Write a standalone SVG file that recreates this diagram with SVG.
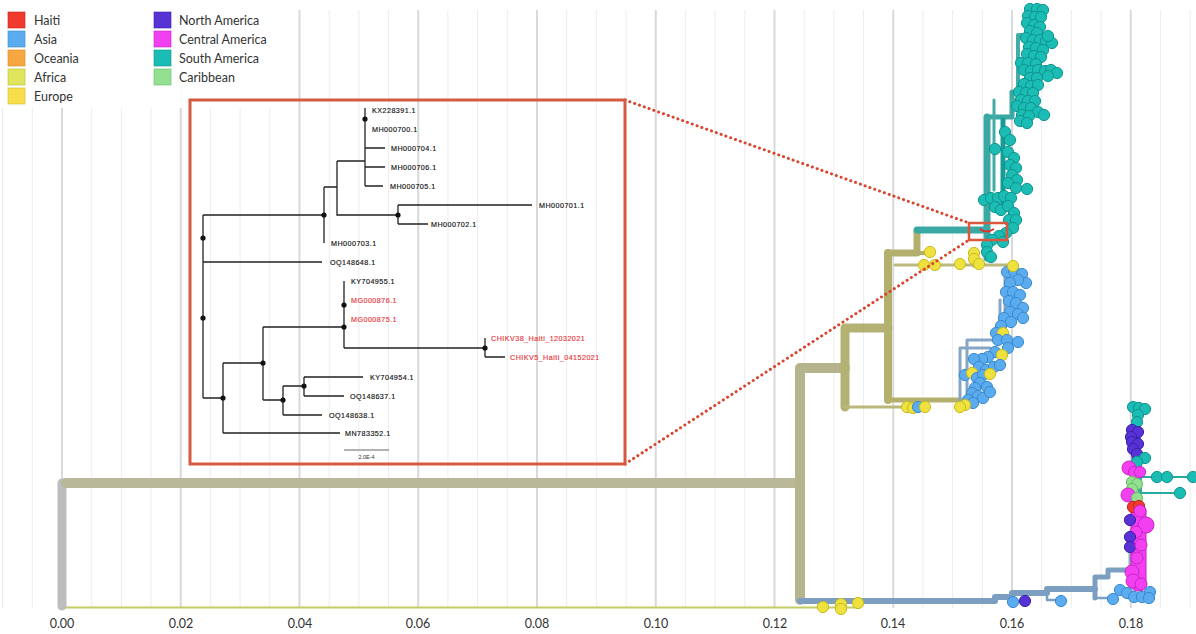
<svg xmlns="http://www.w3.org/2000/svg" width="1196" height="634" viewBox="0 0 1196 634">
<style>
.lg{font-family:Lato,"Liberation Sans",sans-serif;font-size:12.5px;fill:#333}
.ax{font-family:Lato,"Liberation Sans",sans-serif;font-size:12.5px;fill:#333;text-anchor:middle}
.tl{font-family:"Liberation Sans",Arial,sans-serif;font-size:7.2px;letter-spacing:0.45px;fill:#111;dominant-baseline:central;stroke:#111;stroke-width:0.15}
.tr{fill:#e8353a;stroke:#e8353a}
.ie{stroke:#222;stroke-width:1.3;fill:none}
.nd{fill:#111}
.t{fill:#1bbcb4;stroke:#0f9690;stroke-width:1}
.b{fill:#5aacef;stroke:#3a8ad0;stroke-width:1}
.y{fill:#efe23f;stroke:#c9bb1e;stroke-width:1}
.p{fill:#5733d5;stroke:#3c1fae;stroke-width:1}
.m{fill:#f23ff0;stroke:#c826c6;stroke-width:1}
.g{fill:#92e090;stroke:#68bf68;stroke-width:1}
.r{fill:#f03a2e;stroke:#c42318;stroke-width:1}
.sw{stroke-width:1;stroke-opacity:0.6}
.d{r:5.6px}
</style>
<rect width="1196" height="634" fill="#fff"/>
<g id="grid">
<path d="M2.6 10V608M32.3 10V608M91.7 10V608M121.4 10V608M151.1 10V608M210.4 10V608M240.1 10V608M269.8 10V608M329.2 10V608M358.9 10V608M388.6 10V608M447.9 10V608M477.6 10V608M507.3 10V608M566.7 10V608M596.4 10V608M626.1 10V608M685.4 10V608M715.1 10V608M744.8 10V608M804.2 10V608M833.9 10V608M863.6 10V608M922.9 10V608M952.6 10V608M982.3 10V608M1041.7 10V608M1071.4 10V608M1101.1 10V608M1160.4 10V608M1190.1 10V608" stroke="#ededed" stroke-width="1"/>
<path d="M62 10V608M180.75 10V608M299.5 10V608M418.25 10V608M537 10V608M655.75 10V608M774.5 10V608M893.25 10V608M1012 10V608M1130.75 10V608" stroke="#d9d9d9" stroke-width="2"/>
</g>
<g id="axis">
<text class="ax" x="62" y="628">0.00</text>
<text class="ax" x="181" y="628">0.02</text>
<text class="ax" x="300" y="628">0.04</text>
<text class="ax" x="418" y="628">0.06</text>
<text class="ax" x="537" y="628">0.08</text>
<text class="ax" x="656" y="628">0.10</text>
<text class="ax" x="775" y="628">0.12</text>
<text class="ax" x="893" y="628">0.14</text>
<text class="ax" x="1012" y="628">0.16</text>
<text class="ax" x="1131" y="628">0.18</text>
</g>
<g id="legend">
<rect x="0" y="0" width="285" height="108" fill="#fff" opacity="0.92"/>
<rect class="r sw" x="8" y="12" width="17" height="16"/><text class="lg" x="34" y="25">Haiti</text>
<rect class="b sw" x="8" y="31" width="17" height="16"/><text class="lg" x="34" y="44">Asia</text>
<rect x="8" y="50" width="17" height="16" fill="#f6a740" stroke="#d88a25" class="sw"/><text class="lg" x="34" y="63">Oceania</text>
<rect x="8" y="69" width="17" height="16" fill="#dfe65c" stroke="#b9c03a" class="sw"/><text class="lg" x="34" y="82">Africa</text>
<rect x="8" y="88" width="17" height="16" fill="#f8dd4c" stroke="#d6bb2c" class="sw"/><text class="lg" x="34" y="101">Europe</text>
<rect class="p sw" x="154" y="12" width="17" height="16"/><text class="lg" x="179" y="25">North America</text>
<rect class="m sw" x="154" y="31" width="17" height="16"/><text class="lg" x="179" y="44">Central America</text>
<rect class="t sw" x="154" y="50" width="17" height="16"/><text class="lg" x="179" y="63">South America</text>
<rect class="g sw" x="154" y="69" width="17" height="16"/><text class="lg" x="179" y="82">Caribbean</text>
</g>
<g id="edges" fill="none" stroke-linecap="round" stroke-linejoin="round">
<path d="M62 607.5H860" stroke="#c3cd64" stroke-width="2"/>
<path d="M62 606V483H800" stroke="#bdbdbd" stroke-width="9"/>
<path d="M66 483H800" stroke="#b9b898" stroke-width="10"/>
<path d="M800 600V368H845" stroke="#b6b48c" stroke-width="10"/>
<path d="M845 368V328H888M845 368V407" stroke="#b4b273" stroke-width="9"/>
<path d="M845 407H905" stroke="#b9b77a" stroke-width="3"/>
<path d="M888 253V400" stroke="#b3b06d" stroke-width="8"/>
<path d="M888 400H960" stroke="#b3b06d" stroke-width="5"/>
<path d="M888 253H917V232" stroke="#b3b06d" stroke-width="7"/>
<path d="M917 253H930" stroke="#b3b06d" stroke-width="4"/>
<path d="M895 265H1013" stroke="#bcb97e" stroke-width="3"/>
<path d="M975 253V265" stroke="#b3b06d" stroke-width="6"/>
<path d="M917 230H985" stroke="#3ba9a3" stroke-width="7"/>
<path d="M987 117V258" stroke="#3ba9a3" stroke-width="7"/>
<path d="M987 117H1012V92" stroke="#3ba9a3" stroke-width="5"/>
<path d="M1012 100H1018V35H1030" stroke="#44aca7" stroke-width="4"/>
<path d="M994 100V190" stroke="#43aba6" stroke-width="3"/>
<path d="M1003 120V205" stroke="#169c96" stroke-width="5"/>
<path d="M1012 189H1027" stroke="#2bb0a9" stroke-width="2"/>
<path d="M960 405V348H990M967 400V340H1000M967 372H985M1000 340V300M1005 320V275M1008 300H1020M1018 342H1002" stroke="#86a6c6" stroke-width="3"/>
<path d="M800 601H995V597H1012V593H1047V589H1095" stroke="#7c9fc1" stroke-width="6"/>
<path d="M1095 598V577H1108V570H1126" stroke="#7c9fc1" stroke-width="5"/>
<path d="M1095 598H1113M1012 597V601H1025M1047 593V600H1061" stroke="#7c9fc1" stroke-width="2.5"/>
<path d="M1138 408V470" stroke="#2aaaa3" stroke-width="6"/>
<path d="M1134 425V505" stroke="#6b52c9" stroke-width="5"/>
<path d="M1140 460V505" stroke="#3aa9a3" stroke-width="4"/>
<path d="M1130 545V592" stroke="#93a9bd" stroke-width="3"/>
<path d="M1138 477H1193M1138 493H1180" stroke="#27aaa3" stroke-width="2"/>
</g>
<g id="clade-south-america">
<circle class="t d" cx="1030" cy="9" r="5"/><circle class="t d" cx="1037" cy="9" r="5"/><circle class="t d" cx="1043" cy="10" r="5"/>
<circle class="t d" cx="1028" cy="16" r="5"/><circle class="t d" cx="1035" cy="17" r="5"/><circle class="t d" cx="1041" cy="17" r="5"/>
<circle class="t d" cx="1027" cy="23" r="5"/><circle class="t d" cx="1034" cy="25" r="5"/><circle class="t d" cx="1040" cy="27" r="5"/>
<circle class="t d" cx="1030" cy="31" r="5"/><circle class="t d" cx="1037" cy="33" r="5"/>
<circle class="t d" cx="1026" cy="38" r="5"/><circle class="t d" cx="1033" cy="40" r="5"/><circle class="t d" cx="1040" cy="40" r="5"/>
<circle class="t d" cx="1046" cy="41" r="5"/><circle class="t d" cx="1052" cy="43" r="5"/><circle class="t d" cx="1048" cy="36" r="5"/>
<circle class="t d" cx="1029" cy="47" r="5"/><circle class="t d" cx="1036" cy="48" r="5"/><circle class="t d" cx="1043" cy="50" r="5"/>
<circle class="t d" cx="1027" cy="54" r="5"/><circle class="t d" cx="1034" cy="56" r="5"/><circle class="t d" cx="1041" cy="57" r="5"/>
<circle class="t d" cx="1021" cy="63" r="5"/><circle class="t d" cx="1028" cy="63" r="5"/><circle class="t d" cx="1036" cy="64" r="5"/>
<circle class="t d" cx="1024" cy="70" r="5"/><circle class="t d" cx="1031" cy="71" r="5"/><circle class="t d" cx="1038" cy="70" r="5"/>
<circle class="t d" cx="1045" cy="71" r="5"/><circle class="t d" cx="1051" cy="70" r="5"/><circle class="t d" cx="1057" cy="73" r="5"/><circle class="t d" cx="1048" cy="76" r="5"/>
<circle class="t d" cx="1030" cy="78" r="5"/><circle class="t d" cx="1037" cy="78" r="5"/>
<circle class="t d" cx="1024" cy="84" r="5"/><circle class="t d" cx="1031" cy="86" r="5"/><circle class="t d" cx="1038" cy="85" r="5"/>
<circle class="t d" cx="1019" cy="92" r="5"/><circle class="t d" cx="1026" cy="93" r="5"/><circle class="t d" cx="1033" cy="93" r="5"/>
<circle class="t d" cx="1021" cy="100" r="5"/><circle class="t d" cx="1028" cy="101" r="5"/><circle class="t d" cx="1035" cy="101" r="5"/>
<circle class="t d" cx="1017" cy="106" r="5"/><circle class="t d" cx="1024" cy="108" r="5"/><circle class="t d" cx="1031" cy="108" r="5"/>
<circle class="t d" cx="1038" cy="112" r="5"/><circle class="t d" cx="1044" cy="115" r="5"/><circle class="t d" cx="1022" cy="115" r="5"/>
<circle class="t d" cx="1029" cy="116" r="5"/><circle class="t d" cx="1020" cy="121" r="5"/><circle class="t d" cx="1027" cy="123" r="5"/>
<circle class="t d" cx="1005" cy="132" r="5"/><circle class="t d" cx="1010" cy="140" r="5"/>
<circle class="t d" cx="995" cy="149" r="5"/><circle class="t d" cx="1008" cy="152" r="5"/>
<circle class="t d" cx="1014" cy="158" r="5"/><circle class="t d" cx="1010" cy="165" r="5"/><circle class="t d" cx="1016" cy="168" r="5"/>
<circle class="t d" cx="1012" cy="175" r="5"/><circle class="t d" cx="1017" cy="180" r="5"/><circle class="t d" cx="1008" cy="183" r="5"/>
<circle class="t d" cx="1016" cy="188" r="5"/><circle class="t d" cx="1027" cy="189" r="5"/>
<circle class="t d" cx="984" cy="200" r="5"/><circle class="t d" cx="991" cy="198" r="5"/><circle class="t d" cx="998" cy="198" r="5"/>
<circle class="t d" cx="1004" cy="196" r="5"/><circle class="t d" cx="1011" cy="198" r="5"/>
<circle class="t d" cx="995" cy="207" r="5"/><circle class="t d" cx="1001" cy="210" r="5"/><circle class="t d" cx="1008" cy="206" r="5"/>
<circle class="t d" cx="1014" cy="213" r="5"/><circle class="t d" cx="1009" cy="220" r="5"/><circle class="t d" cx="1016" cy="220" r="5"/>
<circle class="t d" cx="1013" cy="228" r="5"/><circle class="t d" cx="1006" cy="233" r="5"/><circle class="t d" cx="999" cy="236" r="5"/>
<circle class="t d" cx="992" cy="240" r="5"/><circle class="t d" cx="1003" cy="242" r="5"/><circle class="t d" cx="987" cy="245" r="5"/>
<circle class="t d" cx="987" cy="252" r="5"/><circle class="t d" cx="991" cy="257" r="5"/>
</g>
<g id="clade-asia-europe">
<circle class="y d" cx="930" cy="252" r="5"/><circle class="y d" cx="924" cy="265" r="5"/><circle class="y d" cx="935" cy="265" r="5"/>
<circle class="y d" cx="960" cy="264" r="5"/><circle class="y d" cx="974" cy="253" r="5"/><circle class="y d" cx="974" cy="259" r="5"/><circle class="y d" cx="979" cy="264" r="5"/>
<circle class="y d" cx="907" cy="407" r="5"/><circle class="y d" cx="913" cy="408" r="5"/><circle class="b d" cx="918" cy="407" r="5"/><circle class="y d" cx="925" cy="407" r="5"/>
<circle class="b d" cx="1007" cy="272" r="5"/><circle class="b d" cx="1014" cy="271" r="5"/><circle class="b d" cx="1022" cy="274" r="5"/>
<circle class="b d" cx="1026" cy="283" r="5"/><circle class="b d" cx="1018" cy="280" r="5"/><circle class="b d" cx="1010" cy="283" r="5"/>
<circle class="b d" cx="1006" cy="292" r="5"/><circle class="b d" cx="1013" cy="292" r="5"/><circle class="b d" cx="1020" cy="295" r="5"/>
<circle class="b d" cx="1009" cy="301" r="5"/><circle class="b d" cx="1016" cy="303" r="5"/><circle class="b d" cx="1023" cy="308" r="5"/>
<circle class="b d" cx="1010" cy="312" r="5"/><circle class="b d" cx="1018" cy="314" r="5"/><circle class="b d" cx="1023" cy="318" r="5"/>
<circle class="b d" cx="1004" cy="318" r="5"/><circle class="b d" cx="1011" cy="322" r="5"/><circle class="b d" cx="1001" cy="326" r="5"/>
<circle class="b d" cx="996" cy="333" r="5"/><circle class="y d" cx="1003" cy="333" r="5"/>
<circle class="b d" cx="998" cy="340" r="5"/><circle class="b d" cx="1007" cy="340" r="5"/><circle class="b d" cx="1018" cy="342" r="5"/>
<circle class="b d" cx="1008" cy="348" r="5"/><circle class="b d" cx="995" cy="352" r="5"/><circle class="y d" cx="1002" cy="355" r="5"/>
<circle class="b d" cx="988" cy="357" r="5"/><circle class="b d" cx="982" cy="359" r="5"/><circle class="b d" cx="974" cy="359" r="5"/>
<circle class="b d" cx="979" cy="367" r="5"/><circle class="b d" cx="986" cy="370" r="5"/><circle class="b d" cx="994" cy="367" r="5"/><circle class="b d" cx="1000" cy="365" r="5"/>
<circle class="b d" cx="965" cy="375" r="5"/><circle class="y d" cx="972" cy="373" r="5"/><circle class="b d" cx="977" cy="378" r="5"/><circle class="b d" cx="983" cy="375" r="5"/><circle class="y d" cx="990" cy="374" r="5"/>
<circle class="b d" cx="980" cy="383" r="5"/><circle class="b d" cx="987" cy="387" r="5"/><circle class="b d" cx="975" cy="388" r="5"/>
<circle class="b d" cx="972" cy="393" r="5"/><circle class="b d" cx="978" cy="396" r="5"/><circle class="b d" cx="983" cy="398" r="5"/><circle class="b d" cx="990" cy="392" r="5"/>
<circle class="b d" cx="968" cy="400" r="5"/><circle class="b d" cx="973" cy="403" r="5"/>
<circle class="y d" cx="965" cy="405" r="5"/><circle class="y d" cx="960" cy="407" r="5"/>
<circle class="y d" cx="1013" cy="266" r="5"/>
</g>
<g id="clade-americas">
<circle class="y d" cx="823" cy="607" r="5"/><circle class="y d" cx="841" cy="604" r="5"/><circle class="y d" cx="841" cy="609" r="5"/><circle class="y d" cx="858" cy="603" r="5"/>
<circle class="b d" cx="1013" cy="602" r="5"/><circle class="p d" cx="1025" cy="601" r="5"/><circle class="b d" cx="1061" cy="601" r="5"/>
<rect x="1131" y="505" width="15" height="86" rx="6" fill="#f23ff0" stroke="#c826c6"/>
<circle class="t d" cx="1133" cy="407" r="5"/><circle class="t d" cx="1139" cy="408" r="5"/><circle class="t d" cx="1145" cy="409" r="5"/>
<circle class="t d" cx="1138" cy="415" r="5"/><circle class="t d" cx="1137" cy="422" r="5"/>
<circle class="p d" cx="1132" cy="430" r="5"/><circle class="p d" cx="1138" cy="432" r="5"/><circle class="p d" cx="1131" cy="437" r="5"/>
<circle class="p d" cx="1132" cy="442" r="5"/><circle class="p d" cx="1138" cy="444" r="5"/><circle class="p d" cx="1133" cy="449" r="5"/><circle class="p d" cx="1137" cy="454" r="5"/>
<circle class="t d" cx="1145" cy="458" r="5"/><circle class="t d" cx="1137" cy="462" r="5"/>
<circle class="m" cx="1129" cy="468" r="7"/><circle class="m d" cx="1134" cy="472" r="5"/><circle class="m d" cx="1140" cy="472" r="5"/>
<circle class="t d" cx="1157" cy="477" r="5"/><circle class="t d" cx="1167" cy="477" r="5"/><circle class="t d" cx="1193" cy="477" r="5"/>
<circle class="g d" cx="1132" cy="482" r="5"/><circle class="g d" cx="1137" cy="484" r="5"/><circle class="g d" cx="1132" cy="489" r="5"/>
<circle class="m" cx="1128" cy="495" r="7"/><circle class="t d" cx="1180" cy="493" r="5"/><circle class="g d" cx="1137" cy="498" r="5"/>
<circle class="r d" cx="1133" cy="507" r="5"/><circle class="r d" cx="1139" cy="506" r="5"/>
<circle class="m" cx="1140" cy="511" r="6"/><circle class="m" cx="1146" cy="525" r="8"/><circle class="p d" cx="1130" cy="520" r="5"/>
<circle class="m" cx="1136" cy="532" r="6"/><circle class="p d" cx="1130" cy="537" r="5"/><circle class="p d" cx="1130" cy="547" r="5"/>
<circle class="m" cx="1141" cy="545" r="6"/><circle class="m" cx="1137" cy="558" r="6"/>
<circle class="m" cx="1132" cy="572" r="7"/><circle class="m" cx="1133" cy="581" r="7"/><circle class="m" cx="1141" cy="584" r="6"/>
<circle class="b d" cx="1113" cy="599" r="5"/><circle class="b d" cx="1120" cy="590" r="5"/><circle class="b d" cx="1127" cy="593" r="5"/>
<circle class="b d" cx="1134" cy="597" r="5"/><circle class="b d" cx="1142" cy="597" r="5"/><circle class="b d" cx="1150" cy="592" r="5"/><circle class="b d" cx="1149" cy="598" r="5"/>
</g>
<g id="zoom-marker" fill="none">
<path d="M625 100L969 223M625 464L969 240" stroke="#d9452f" stroke-width="3" stroke-dasharray="0.1 5" stroke-linecap="round"/>
<rect x="969" y="223" width="38" height="17" stroke="#d9573e" stroke-width="2.5"/>
<path d="M980 229Q986 234 994 229" stroke="#e03030" stroke-width="2"/>
</g>
<g id="inset">
<rect x="190" y="100" width="435" height="364" fill="none" stroke="#d65a40" stroke-width="3"/>
<g id="inset-edges" class="ie">
<path d="M365 108V186M365 148H385M365 167H385M365 186H383M337 161H365M337 161V215H398M398 205V224M398 205H532M398 224H428M324 187H337M324 187V243M203 215H324M203 215V398M203 262H322M203 398H223M223 363V433M223 433H340M223 363H263M263 327V400M263 327H344M344 281V348M344 348H485M485 338V357M485 357H505M263 400H283M283 386V415M283 386H304M304 377V396M304 377H363M304 396H344M283 415H322"/>
</g>
<g id="inset-nodes" class="nd">
<circle cx="365" cy="119" r="2.6"/><circle cx="398" cy="215" r="2.6"/><circle cx="324" cy="215" r="2.6"/>
<circle cx="203" cy="238" r="2.6"/><circle cx="203" cy="318" r="2.6"/><circle cx="223" cy="398" r="2.6"/>
<circle cx="263" cy="363" r="2.6"/><circle cx="344" cy="305" r="2.6"/><circle cx="344" cy="327" r="2.6"/>
<circle cx="485" cy="348" r="2.6"/><circle cx="283" cy="400" r="2.6"/><circle cx="304" cy="386" r="2.6"/>
</g>
<g id="inset-labels">
<text class="tl" x="372" y="110">KX228391.1</text>
<text class="tl" x="372" y="129">MH000700.1</text>
<text class="tl" x="391" y="148">MH000704.1</text>
<text class="tl" x="391" y="167">MH000706.1</text>
<text class="tl" x="390" y="186">MH000705.1</text>
<text class="tl" x="539" y="205">MH000701.1</text>
<text class="tl" x="431" y="224">MH000702.1</text>
<text class="tl" x="331" y="243">MH000703.1</text>
<text class="tl" x="330" y="262">OQ148648.1</text>
<text class="tl" x="351" y="281">KY704955.1</text>
<text class="tl tr" x="351" y="300">MG000876.1</text>
<text class="tl tr" x="351" y="319">MG000875.1</text>
<text class="tl tr" x="491" y="338">CHIKV38_Haiti_12032021</text>
<text class="tl tr" x="510" y="357">CHIKV5_Haiti_04152021</text>
<text class="tl" x="370" y="377">KY704954.1</text>
<text class="tl" x="350" y="396">OQ148637.1</text>
<text class="tl" x="329" y="415">OQ148638.1</text>
<text class="tl" x="345" y="433">MN783352.1</text>
</g>
<g id="scale-bar">
<path d="M344 450H389" stroke="#666" stroke-width="1.2"/>
<text x="366.5" y="459" font-family="Liberation Sans,Arial,sans-serif" font-size="5.5" fill="#333" text-anchor="middle">2.0E-4</text>
</g>
</g>
</svg>
